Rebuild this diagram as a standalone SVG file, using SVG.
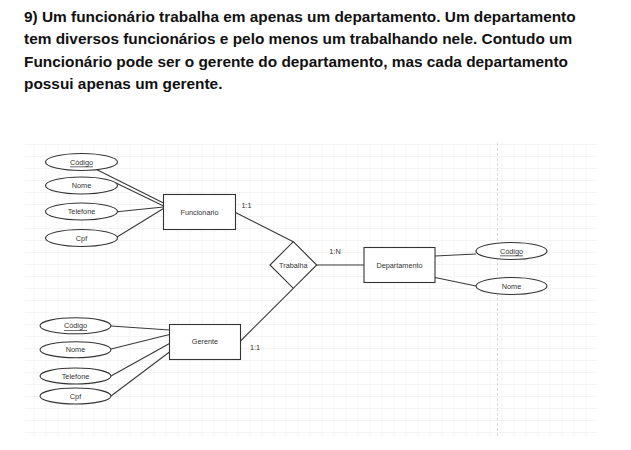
<svg xmlns="http://www.w3.org/2000/svg" width="631" height="450" viewBox="0 0 631 450">
<style>
.title{font-family:"Liberation Sans",Arial,sans-serif;font-weight:bold;font-size:15.4px;fill:#111}
.lbl{font-family:"Liberation Sans",Arial,sans-serif;font-size:7.3px;fill:#333;text-anchor:middle;dominant-baseline:central}
.shape{fill:#fff;stroke:#333;stroke-width:1.1}
.conn line{stroke:#3a3a3a;stroke-width:1.1}
.u{text-decoration:underline}
</style>
<defs>
<pattern id="grid" x="9.5" y="0" width="12" height="12" patternUnits="userSpaceOnUse">
<path d="M0 0H12M0 0V12" fill="none" stroke="#e4e4e4" stroke-width="0.8"/>
</pattern>
</defs>
<rect width="631" height="450" fill="#fff"/>
<text class="title" x="24" y="21.5">9) Um funcionário trabalha em apenas um departamento. Um departamento</text>
<text class="title" x="24" y="44">tem diversos funcionários e pelo menos um trabalhando nele. Contudo um</text>
<text class="title" x="24" y="66.5">Funcionário pode ser o gerente do departamento, mas cada departamento</text>
<text class="title" x="24" y="89">possui apenas um gerente.</text>
<g id="grid-bg">
<rect x="25" y="143" width="572" height="294" fill="url(#grid)"/>
<line x1="497.5" y1="143" x2="497.5" y2="437" stroke="#d4d4d4" stroke-width="0.8" stroke-dasharray="3 2"/>
</g>
<g class="conn" id="connectors">
<line x1="97" y1="169.7" x2="163.5" y2="203"/>
<line x1="115" y1="182.4" x2="163.5" y2="206"/>
<line x1="117" y1="211.7" x2="163.5" y2="207"/>
<line x1="117" y1="237" x2="163.5" y2="208.5"/>
<line x1="111" y1="326" x2="169.5" y2="330"/>
<line x1="111" y1="349" x2="169.5" y2="334.5"/>
<line x1="111" y1="376" x2="169.5" y2="343.5"/>
<line x1="111" y1="396" x2="169.5" y2="352"/>
<line x1="235.5" y1="212.5" x2="293.3" y2="241.7"/>
<line x1="240.5" y1="341" x2="293.3" y2="288.3"/>
<line x1="316.7" y1="265" x2="364" y2="265"/>
<line x1="435" y1="256" x2="476" y2="254"/>
<line x1="435" y1="277.5" x2="476" y2="286"/>
</g>
<g id="card-labels">
<text class="lbl" x="246.5" y="205">1:1</text>
<text class="lbl" x="335" y="251">1:N</text>
<text class="lbl" x="255" y="347">1:1</text>
</g>
<g id="funcionario">
<rect class="shape" x="163.5" y="194.5" width="72" height="35"/>
<text class="lbl" x="199.5" y="212">Funcionario</text>
</g>
<g id="f-codigo"><ellipse class="shape" cx="81.5" cy="162" rx="36" ry="8.5"/><text class="lbl u" x="81.5" y="162">Código</text></g>
<g id="f-nome"><ellipse class="shape" cx="81.5" cy="185.5" rx="36" ry="8.5"/><text class="lbl" x="81.5" y="185.5">Nome</text></g>
<g id="f-telefone"><ellipse class="shape" cx="81.5" cy="211.5" rx="36" ry="8.5"/><text class="lbl" x="81.5" y="211.5">Telefone</text></g>
<g id="f-cpf"><ellipse class="shape" cx="81.5" cy="238" rx="36" ry="8.5"/><text class="lbl" x="81.5" y="238">Cpf</text></g>
<g id="trabalha">
<polygon class="shape" points="293.3,241.7 316.7,265 293.3,288.3 270,265"/>
<text class="lbl" x="293.3" y="265">Trabalha</text>
</g>
<g id="departamento">
<rect class="shape" x="364" y="247.5" width="71" height="35"/>
<text class="lbl" x="399.5" y="265">Departamento</text>
</g>
<g id="d-codigo"><ellipse class="shape" cx="511.5" cy="251" rx="35.5" ry="8.5"/><text class="lbl u" x="511.5" y="251">Código</text></g>
<g id="d-nome"><ellipse class="shape" cx="511.5" cy="286" rx="35.5" ry="8.5"/><text class="lbl" x="511.5" y="286">Nome</text></g>
<g id="gerente">
<rect class="shape" x="169.5" y="324.5" width="71" height="35"/>
<text class="lbl" x="205" y="341.7">Gerente</text>
</g>
<g id="g-codigo"><ellipse class="shape" cx="75.5" cy="325.8" rx="35.5" ry="8"/><text class="lbl u" x="75.5" y="325.8">Código</text></g>
<g id="g-nome"><ellipse class="shape" cx="75.5" cy="349.7" rx="35.5" ry="8"/><text class="lbl" x="75.5" y="349.7">Nome</text></g>
<g id="g-telefone"><ellipse class="shape" cx="75.5" cy="376" rx="35.5" ry="8"/><text class="lbl" x="75.5" y="376">Telefone</text></g>
<g id="g-cpf"><ellipse class="shape" cx="75.5" cy="396" rx="35.5" ry="8"/><text class="lbl" x="75.5" y="396">Cpf</text></g>
</svg>
